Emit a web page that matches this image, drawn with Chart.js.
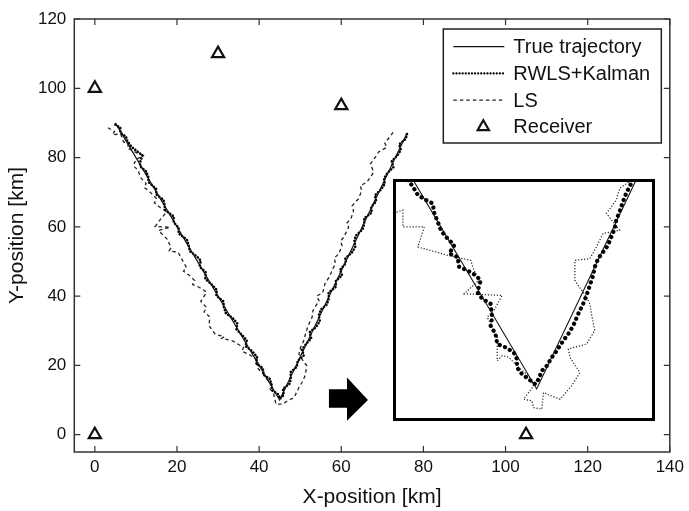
<!DOCTYPE html>
<html><head><meta charset="utf-8">
<script src="https://cdn.jsdelivr.net/npm/chart.js@4.4.0/dist/chart.umd.min.js"></script>
<style>
html,body{margin:0;padding:0;background:#fff;}
#wrap{position:relative;width:689px;height:511px;overflow:hidden;}
#main{position:absolute;left:0;top:0;}
#inset{position:absolute;left:0;top:0;}
</style></head><body>
<div id="wrap"><canvas id="main" width="689" height="511"></canvas><canvas id="inset" width="264" height="241"></canvas></div>
<script>
// ---------- data ----------
const seriesNames = ['True trajectory', 'RWLS+Kalman', 'LS', 'Receiver'];
const xTicks = [0, 20, 40, 60, 80, 100, 120, 140];
const yTicks = [0, 20, 40, 60, 80, 100, 120];
const xRange = [-5, 140];
const yRange = [-5, 120];
const xTitle = 'X-position [km]';
const yTitle = 'Y-position [km]';

const trueX = [5, 45, 76];
const trueY = [90, 10, 87];

const rwlsX = [5.0, 6.2, 6.2, 7.6, 7.9, 9.0, 9.9, 11.6, 11.1, 11.0, 12.5, 13.0, 13.1, 14.9, 15.0, 16.7, 17.0, 17.1, 19.2, 19.2,
  20.4, 20.4, 22.4, 22.8, 23.1, 24.9, 25.8, 25.5, 27.0, 26.9, 28.6, 29.7, 29.6, 31.3, 31.4, 31.9, 33.6, 34.7, 34.5, 35.9,
  37.0, 36.7, 38.4, 39.5, 39.3, 40.9, 41.1, 42.6, 43.0, 43.2, 44.7, 45.1,
  46.0, 45.8, 47.5, 47.7, 47.7, 49.2, 49.4, 50.9, 50.4, 51.5, 52.7, 52.3, 53.8, 54.8, 54.5, 55.1, 56.5, 57.0, 56.9, 58.7,
  58.7, 60.2, 59.7, 61.1, 61.0, 62.6, 63.4, 63.2, 63.5, 65.2, 65.6, 65.6, 67.4, 67.3, 68.5, 68.2, 69.6, 70.6, 70.4, 71.3,
  72.7, 72.3, 73.6, 74.5, 74.1, 75.7, 76.0, 76.0];
const rwlsY = [89.5, 88.6, 87.2, 86.0, 84.8, 83.0, 82.2, 80.6, 79.0, 77.5, 76.0, 74.4, 72.9, 71.0, 69.3, 67.8, 66.2, 64.9, 63.0, 61.3,
  59.8, 58.1, 56.3, 54.9, 53.0, 51.4, 50.2, 48.5, 46.9, 45.0, 43.2, 41.8, 40.1, 38.5, 37.0, 35.1, 33.6, 32.1, 30.4, 28.7,
  27.2, 25.6, 24.0, 22.4, 20.6, 19.2, 17.3, 16.1, 14.5, 12.8, 11.6, 10.4,
  11.5, 13.2, 14.8, 16.3, 18.1, 19.6, 21.3, 22.9, 24.5, 26.3, 27.8, 29.6, 31.0, 32.8, 34.4, 36.2, 37.6, 39.5, 41.0, 42.7,
  44.4, 46.0, 47.6, 49.5, 50.9, 52.6, 54.2, 56.0, 57.4, 59.3, 60.9, 62.5, 64.1, 65.8, 67.4, 69.1, 70.7, 72.4, 74.0, 75.6,
  77.2, 79.0, 80.5, 82.2, 83.8, 85.4, 86.8, 87.6];

const lsX = [3.2, 4.8, 4.3, 6.3, 7.0, 8.2, 7.9, 9.0, 10.3, 11.8, 10.0, 9.4, 10.6, 11.0, 12.5, 12.0, 13.3, 15.1, 14.5, 16.0,
  17.5, 16.2, 14.7, 18.3, 15.5, 17.5, 18.6, 18.1, 20.3, 21.5, 22.3, 21.6, 23.0, 24.3, 23.8, 25.5, 27.2, 25.8, 27.2, 26.6,
  28.0, 27.8, 29.3, 31.5, 30.9, 33.5, 36.2, 35.8, 37.8, 39.9, 39.4, 41.0, 41.9, 43.1, 42.6, 43.5, 44.1, 45.7,
  46.9, 48.5, 49.7, 50.4, 51.2, 51.6, 50.6, 49.7, 50.1, 50.8, 51.4, 51.9, 52.9, 53.1, 54.6, 54.0, 55.5, 56.0, 57.0, 57.4,
  58.0, 58.6, 58.3, 59.4, 60.2, 59.8, 60.6, 61.8, 61.3, 62.4, 63.0, 62.6, 64.2, 65.0, 64.6, 66.3, 67.9, 67.1, 68.3, 69.1,
  71.1, 70.6, 71.5, 72.7];
const lsY = [88.6, 87.5, 86.6, 86.8, 84.5, 83.9, 82.8, 82.1, 81.3, 80.6, 79.4, 77.7, 76.2, 74.4, 72.5, 71.4, 70.2, 68.1, 66.9, 65.5,
  64.3, 62.5, 60.1, 59.9, 58.9, 56.6, 54.0, 53.1, 52.6, 50.0, 48.3, 47.2, 46.0, 44.5, 43.4, 42.5, 41.1, 38.5, 36.7, 35.4,
  34.0, 31.5, 29.0, 28.3, 27.8, 27.1, 25.2, 24.1, 23.0, 21.3, 19.5, 17.5, 16.0, 14.6, 13.3, 12.0, 8.8, 8.8,
  9.75, 10.7, 13.6, 15.0, 17.0, 19.9, 21.5, 23.3, 25.2, 27.0, 29.5, 31.4, 33.9, 35.8, 38.7, 40.0, 41.0, 43.5, 45.4, 46.4,
  48.0, 49.3, 51.0, 52.2, 54.6, 55.8, 57.0, 59.9, 61.0, 62.5, 64.7, 66.0, 68.1, 70.5, 71.8, 73.0, 75.8, 78.2, 80.1, 81.6,
  83.0, 84.2, 85.5, 87.4];

const receiverX = [0, 0, 30, 60, 105];
const receiverY = [0, 100, 110, 95, 0];

// zoomed inset (magnified view around the turning point)
const insetXRange = [32.5, 55.3];
const insetYRange = [6.7, 31.6];
const insetBoxX = [72.7, 136.5];   // inset frame, in main-axis units
const insetBoxY = [4.0, 73.7];

const insetRwlsX = [33.80, 34.23, 34.66, 35.38, 35.95, 36.10, 36.39, 36.67, 37.11, 37.83, 37.39, 38.11, 38.26, 38.98, 39.70, 40.13, 39.84, 40.27, 40.99, 41.14,
  40.99, 41.42, 41.57, 42.29, 43.01, 43.29, 43.29, 43.73, 44.30, 44.88, 45.17, 45.45, 45.89, 46.32, 46.75, 47.32, 47.76, 48.19, 48.62, 49.05,
  49.34, 49.63, 49.92, 50.06, 50.35, 50.78, 51.21, 51.50, 51.79, 51.93, 52.22, 52.51, 52.79, 53.23, 53.51];
const insetRwlsY = [31.50, 30.81, 29.95, 29.43, 29.09, 28.06, 27.20, 26.33, 25.65, 24.78, 23.92, 23.58, 22.55, 22.20, 21.68, 21.17, 19.96, 19.27, 18.76, 17.38,
  16.52, 15.66, 14.62, 14.28, 13.76, 13.07, 12.21, 11.52, 11.01, 10.49, 11.01, 11.87, 12.38, 13.25, 13.93, 14.97, 15.66, 16.52, 17.72, 18.76,
  19.62, 20.65, 21.68, 22.55, 23.41, 24.10, 24.78, 25.65, 26.51, 27.37, 28.23, 29.26, 30.12, 31.16, 31.85];

const insetLsX = [32.07, 33.36, 33.36, 35.23, 34.66, 37.25, 39.26, 39.55, 39.98, 38.69, 42.00, 41.28, 40.70, 41.14, 41.57, 41.57, 42.00, 42.58, 43.44, 44.30,
  44.73, 43.87, 44.59, 44.73, 45.45, 45.60, 45.89, 47.04, 48.04, 48.76, 47.90, 47.76, 49.34, 50.06, 49.77, 49.63, 49.34, 48.62, 48.33, 48.33,
  49.63, 50.20, 50.78, 52.22, 51.07, 51.93, 52.22, 53.08, 53.51];
const insetLsY = [27.88, 28.40, 26.68, 26.68, 24.61, 23.75, 23.23, 22.20, 21.17, 19.79, 19.62, 18.07, 17.38, 16.35, 15.31, 12.90, 13.42, 13.25, 12.21, 11.35,
  10.32, 8.94, 8.77, 8.08, 7.91, 9.63, 9.46, 8.94, 10.32, 11.69, 13.25, 14.11, 14.62, 16.00, 17.72, 18.76, 19.45, 20.65, 21.17, 23.23,
  23.41, 24.61, 25.99, 26.33, 28.06, 29.43, 30.64, 31.33, 32.19];

// pointer arrow (main-axis units)
const arrowX = [57.0, 61.4, 61.4, 66.5, 61.4, 61.4, 57.0];
const arrowY = [13.1, 13.1, 16.5, 10.0, 4.0, 7.8, 7.8];

// ---------- rendering ----------
const FONT = '"Liberation Sans", Arial, Helvetica, sans-serif';
const INK = '#111';
const pts = (xs, ys) => xs.map((v, i) => ({x: v, y: ys[i]}));

const styles = {
  truth: {borderColor: INK, borderWidth: 1.2, borderDash: []},
  rwls:  {borderColor: '#000', borderWidth: 2.6, borderDash: [0.1, 3.0], borderCapStyle: 'round'},
  ls:    {borderColor: '#222', borderWidth: 1.3, borderDash: [3.5, 3]},
};

const bgPlugin = {
  id: 'bg',
  beforeDraw(chart) {
    const c = chart.ctx; c.save(); c.fillStyle = '#fff';
    c.fillRect(0, 0, chart.width, chart.height); c.restore();
  }
};

const framePlugin = {
  id: 'frame',
  afterDraw(chart) {
    const {ctx, chartArea: a, scales: {x, y}} = chart;
    ctx.save();
    ctx.strokeStyle = '#333'; ctx.lineWidth = 1.5; ctx.setLineDash([]);
    ctx.strokeRect(a.left, a.top, a.right - a.left, a.bottom - a.top);
    ctx.lineWidth = 1.2;
    ctx.beginPath();
    x.ticks.forEach(t => {
      const p = x.getPixelForValue(t.value);
      ctx.moveTo(p, a.bottom); ctx.lineTo(p, a.bottom - 6);
      ctx.moveTo(p, a.top); ctx.lineTo(p, a.top + 6);
    });
    y.ticks.forEach(t => {
      const p = y.getPixelForValue(t.value);
      ctx.moveTo(a.left, p); ctx.lineTo(a.left + 6, p);
      ctx.moveTo(a.right, p); ctx.lineTo(a.right - 6, p);
    });
    ctx.stroke();
    ctx.restore();
  }
};

const arrowPlugin = {
  id: 'arrow',
  afterDatasetsDraw(chart) {
    const {ctx, scales: {x, y}} = chart;
    ctx.save(); ctx.beginPath();
    arrowX.forEach((v, i) => {
      const px = x.getPixelForValue(v), py = y.getPixelForValue(arrowY[i]);
      if (i) ctx.lineTo(px, py); else ctx.moveTo(px, py);
    });
    ctx.closePath(); ctx.fillStyle = '#000'; ctx.fill(); ctx.restore();
  }
};

const legendPlugin = {
  id: 'boxLegend',
  afterDraw(chart) {
    const {ctx, chartArea: a} = chart;
    const w = 218, h = 114;
    const left = a.right - 8.5 - w, top = a.top + 10;
    ctx.save();
    ctx.fillStyle = '#fff'; ctx.fillRect(left, top, w, h);
    ctx.strokeStyle = '#222'; ctx.lineWidth = 1.5; ctx.setLineDash([]);
    ctx.strokeRect(left, top, w, h);
    chart.data.datasets.forEach((ds, i) => {
      const yy = top + 17.7 + i * 26.7;
      if (ds.showLine) {
        ctx.save();
        ctx.strokeStyle = ds.borderColor;
        ctx.lineWidth = Math.min(ds.borderWidth, 2.2);
        ctx.setLineDash(ds.borderDash || []);
        ctx.lineCap = ds.borderCapStyle || 'butt';
        ctx.beginPath(); ctx.moveTo(left + 10, yy); ctx.lineTo(left + 61, yy); ctx.stroke();
        ctx.restore();
      } else {
        ctx.save();
        ctx.fillStyle = ds.pointBackgroundColor; ctx.strokeStyle = ds.pointBorderColor;
        ctx.lineWidth = ds.pointBorderWidth;
        Chart.helpers.drawPoint(ctx, {pointStyle: ds.pointStyle, radius: 6.5, borderWidth: ds.pointBorderWidth, rotation: 0}, left + 40, yy);
        ctx.restore();
      }
      ctx.fillStyle = INK;
      ctx.font = '20px ' + FONT;
      ctx.textBaseline = 'middle'; ctx.textAlign = 'left';
      ctx.fillText(ds.label, left + 70, yy + 1);
    });
    ctx.restore();
  }
};

const tickFont = {family: FONT, size: 17};
const titleFont = {family: FONT, size: 21};

const mainChart = new Chart(document.getElementById('main'), {
  type: 'scatter',
  data: {
    datasets: [
      Object.assign({label: seriesNames[0], data: pts(trueX, trueY), showLine: true, pointRadius: 0, order: 2}, styles.truth),
      Object.assign({label: seriesNames[1], data: pts(rwlsX, rwlsY), showLine: true, pointRadius: 0, order: 3}, styles.rwls),
      Object.assign({label: seriesNames[2], data: pts(lsX, lsY), showLine: true, pointRadius: 0, order: 4}, styles.ls),
      {label: seriesNames[3], data: pts(receiverX, receiverY), showLine: false, pointStyle: 'triangle',
       pointRadius: 7, pointBorderWidth: 2.2, pointBackgroundColor: '#fff', pointBorderColor: INK, order: 1}
    ]
  },
  options: {
    responsive: false, animation: false, devicePixelRatio: 1, events: [],
    layout: {padding: {left: 0, right: 15.7, top: 19, bottom: 0}},
    plugins: {legend: {display: false}, tooltip: {enabled: false}},
    scales: {
      x: {
        type: 'linear', min: xRange[0], max: xRange[1],
        afterBuildTicks: s => { s.ticks = xTicks.map(v => ({value: v})); },
        afterFit: s => { s.height = 59; },
        grid: {display: false, drawTicks: false}, border: {display: false},
        ticks: {padding: 5, font: tickFont, color: INK, maxRotation: 0, autoSkip: false},
        title: {display: true, text: xTitle, font: titleFont, color: INK, padding: {top: 0, bottom: 1.5}}
      },
      y: {
        type: 'linear', min: yRange[0], max: yRange[1],
        afterBuildTicks: s => { s.ticks = yTicks.map(v => ({value: v})); },
        afterFit: s => { s.width = 74.3; },
        grid: {display: false, drawTicks: false}, border: {display: false},
        ticks: {padding: 8, font: tickFont, color: INK, autoSkip: false},
        title: {display: true, text: yTitle, font: titleFont, color: INK, padding: {top: 5, bottom: 0}}
      }
    }
  },
  plugins: [bgPlugin, arrowPlugin, framePlugin, legendPlugin]
});

// ---------- inset ----------
const sx = mainChart.scales.x, sy = mainChart.scales.y;
const iL = Math.round(sx.getPixelForValue(insetBoxX[0]));
const iR = Math.round(sx.getPixelForValue(insetBoxX[1]));
const iT = Math.round(sy.getPixelForValue(insetBoxY[1]));
const iB = Math.round(sy.getPixelForValue(insetBoxY[0]));
const insetCanvas = document.getElementById('inset');
insetCanvas.width = iR - iL; insetCanvas.height = iB - iT;
insetCanvas.style.left = iL + 'px'; insetCanvas.style.top = iT + 'px';

const insetFrame = {
  id: 'insetFrame',
  afterDraw(chart) {
    const c = chart.ctx; c.save();
    c.strokeStyle = '#000'; c.lineWidth = 3; c.setLineDash([]);
    c.strokeRect(1.5, 1.5, chart.width - 3, chart.height - 3);
    c.restore();
  }
};

new Chart(insetCanvas, {
  type: 'scatter',
  data: {
    datasets: [
      {label: seriesNames[0], data: pts(trueX, trueY), showLine: true, pointRadius: 0, borderColor: INK, borderWidth: 1.1},
      {label: seriesNames[1], data: pts(insetRwlsX, insetRwlsY), showLine: true, pointRadius: 0, borderColor: '#000',
       borderWidth: 4.2, borderDash: [0.1, 5.5], borderCapStyle: 'round'},
      {label: seriesNames[2], data: pts(insetLsX, insetLsY), showLine: true, pointRadius: 0, borderColor: '#222',
       borderWidth: 1.2, borderDash: [1.2, 1.8]}
    ]
  },
  options: {
    responsive: false, animation: false, devicePixelRatio: 1, events: [],
    layout: {padding: 0},
    plugins: {legend: {display: false}, tooltip: {enabled: false}},
    scales: {
      x: {type: 'linear', display: false, min: insetXRange[0], max: insetXRange[1]},
      y: {type: 'linear', display: false, min: insetYRange[0], max: insetYRange[1]}
    }
  },
  plugins: [bgPlugin, insetFrame]
});
</script>
</body></html>
